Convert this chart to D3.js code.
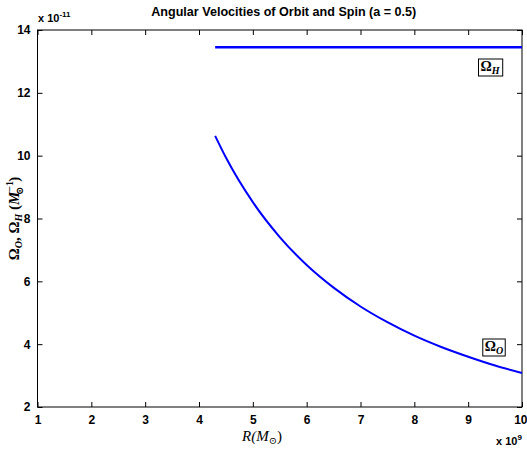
<!DOCTYPE html>
<html><head><meta charset="utf-8">
<script src="https://cdn.jsdelivr.net/npm/d3@7"></script>
<style>
body{margin:0;background:#fff;}
svg{display:block;}
.tick text{font-family:"Liberation Sans",Arial,sans-serif;font-weight:bold;font-size:12px;}
</style></head>
<body>
<script>
const title = "Angular Velocities of Orbit and Spin (a = 0.5)";
const xTicks = [1,2,3,4,5,6,7,8,9,10];
const yTicks = [2,4,6,8,10,12,14];
// R in units of 1e9
const rOrbit = [4.3,4.5,5,5.5,6,6.5,7,7.5,8,8.5,9,9.5,10];
// Omega_O in units of 1e-11
const omegaOrbit = [10.63,9.94,8.52,7.41,6.52,5.80,5.20,4.70,4.27,3.91,3.60,3.32,3.08];
const rSpin = [4.3,10];
const omegaSpin = [13.45,13.45];

const W=527,H=456;
const m={l:37.5,r:5,t:30,b:49};
const svg=d3.select("body").append("svg").attr("width",W).attr("height",H);
const x=d3.scaleLinear().domain([1,10]).range([m.l,W-m.r]);
const y=d3.scaleLinear().domain([2,14]).range([H-m.b,m.t]);

// frame
svg.append("rect").attr("x",x(1)).attr("y",y(14)).attr("width",x(10)-x(1)).attr("height",y(2)-y(14))
  .attr("fill","none").attr("stroke","#000").attr("stroke-width",1);

const gx=svg.append("g").attr("transform",`translate(0,${y(2)})`)
  .call(d3.axisBottom(x).tickValues(xTicks).tickSizeInner(-5).tickSizeOuter(0).tickPadding(8).tickFormat(d3.format("d")));
const gxt=svg.append("g").attr("transform",`translate(0,${y(14)})`)
  .call(d3.axisTop(x).tickValues(xTicks).tickSizeInner(-5).tickSizeOuter(0).tickFormat(""));
const gy=svg.append("g").attr("transform",`translate(${x(1)},0)`)
  .call(d3.axisLeft(y).tickValues(yTicks).tickSizeInner(-5).tickSizeOuter(0).tickPadding(7).tickFormat(d3.format("d")));
const gyr=svg.append("g").attr("transform",`translate(${x(10)},0)`)
  .call(d3.axisRight(y).tickValues(yTicks).tickSizeInner(-5).tickSizeOuter(0).tickFormat(""));
[gx,gxt,gy,gyr].forEach(g=>{g.select(".domain").remove();g.selectAll("line").attr("stroke","#000");g.selectAll("text").attr("fill","#000");});
gy.selectAll(".tick text").attr("dy","0.32em");
gx.selectAll(".tick text").filter(d=>d===10).attr("text-anchor","end").attr("dx",5);

// lines
const line=d3.line().x(d=>x(d[0])).y(d=>y(d[1])).curve(d3.curveMonotoneX);
svg.append("path").datum(rOrbit.map((r,i)=>[r,omegaOrbit[i]])).attr("d",line)
  .attr("fill","none").attr("stroke","#0000ff").attr("stroke-width",2);
svg.append("path").datum(rSpin.map((r,i)=>[r,omegaSpin[i]])).attr("d",line)
  .attr("fill","none").attr("stroke","#0000ff").attr("stroke-width",2.5);

// title
svg.append("text").attr("x",(x(1)+x(10))/2+4).attr("y",16).attr("text-anchor","middle")
  .attr("font-family","Liberation Sans, Arial, sans-serif").attr("font-weight","bold").attr("font-size","13px")
  .attr("textLength",265).attr("lengthAdjust","spacingAndGlyphs").text(title);

// exponents
function expo(xp,yp,base,ex){
  const t=svg.append("text").attr("x",xp).attr("y",yp).attr("font-family","Liberation Sans, Arial, sans-serif")
    .attr("font-weight","bold").attr("font-size","11px");
  t.append("tspan").text(base);
  t.append("tspan").attr("dy",-5).attr("font-size","8px").text(ex);
}
expo(38,22,"x 10","-11");
expo(496,445,"x 10","9");

// axis labels
const serif="Liberation Serif, DejaVu Serif, serif";
const xl=svg.append("text").attr("x",262).attr("y",441).attr("text-anchor","middle")
  .attr("font-family",serif).attr("font-style","italic").attr("font-size","15px");
xl.append("tspan").text("R(M");
xl.append("tspan").attr("dy",3).attr("font-size","10px").attr("font-style","normal").text("⊙");
xl.append("tspan").attr("dy",-3).attr("font-style","normal").text(")");

const yl=svg.append("text").attr("transform",`translate(19,${(y(2)+y(14))/2})rotate(-90)`).attr("text-anchor","middle")
  .attr("font-family",serif).attr("font-weight","bold").attr("font-style","italic").attr("font-size","15px");
yl.append("tspan").attr("font-style","normal").text("Ω");
yl.append("tspan").attr("dy",3).attr("font-size","10px").text("O");
yl.append("tspan").attr("dy",-3).attr("font-style","normal").text(", Ω");
yl.append("tspan").attr("dy",3).attr("font-size","10px").text("H");
yl.append("tspan").attr("dy",-3).attr("font-style","normal").text(" (");
yl.append("tspan").text("M");
yl.append("tspan").attr("dy",-6).attr("font-size","10px").attr("font-style","normal").text("−1");
yl.append("tspan").attr("dx",-14).attr("dy",10).attr("font-size","10px").attr("font-style","normal").text("⊙");
yl.append("tspan").attr("dx",5).attr("dy",-4).attr("font-style","normal").text(")");

// boxed labels
function boxLabel(cx,cy,sub){
  const g=svg.append("g");
  const t=g.append("text").attr("x",cx).attr("y",cy).attr("text-anchor","middle")
    .attr("font-family",serif).attr("font-weight","bold").attr("font-size","14px");
  t.append("tspan").text("Ω");
  t.append("tspan").attr("dy",3).attr("font-size","10px").attr("font-style","italic").text(sub);
  const bb=t.node().getBBox();
  g.insert("rect","text").attr("x",bb.x-2).attr("y",bb.y).attr("width",bb.width+4).attr("height",bb.height)
    .attr("fill","#fff").attr("stroke","#000").attr("stroke-width",1);
}
boxLabel(490,71,"H");
boxLabel(494,351,"O");
</script>
</body></html>
